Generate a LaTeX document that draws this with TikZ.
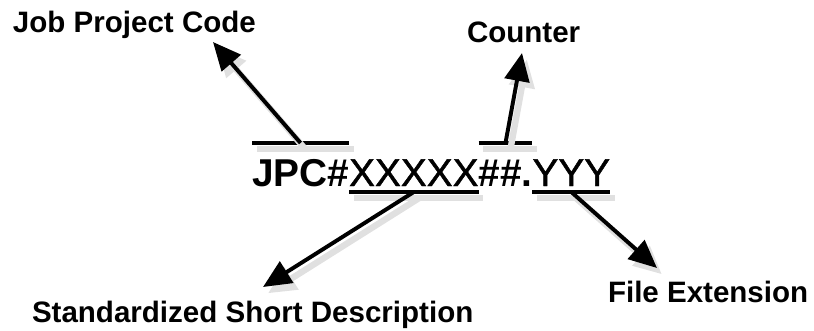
\documentclass[tikz,border=0pt]{standalone}
\usepackage{fontspec}
\setmainfont{Liberation Sans}
\newfontfamily\midweight{Liberation Sans}[FakeBold=1.2]
\usetikzlibrary{arrows.meta, positioning}

\begin{document}
\begin{tikzpicture}[x=0.025cm, y=-0.025cm, >={Triangle[length=0.7cm, width=0.62cm]},
  codepart/.style={inner sep=0pt, outer sep=0pt, anchor=base west, font=\fontsize{27.6}{30}\selectfont\midweight},
  descr/.style={inner sep=0pt, outer sep=0pt, anchor=base west, font=\fontsize{21}{24}\selectfont\bfseries},
  bar/.style={line width=2.8pt, preaction={draw=black!12, line width=4.5pt, transform canvas={shift={(3.5pt,-4.5pt)}}}},
  pointer/.style={->, line width=2.8pt, preaction={draw=black!12, fill=black!12, line width=4.5pt, transform canvas={shift={(3.5pt,-4.5pt)}}}}]
  \useasboundingbox (0,0) rectangle (814,330);

  % Nodes
  \node[codepart, font=\fontsize{27.6}{30}\selectfont\bfseries] (jpc) at (252,186) {JPC\#};
  \node[codepart, base right=0pt of jpc] (xxx) {XXXXX};
  \node[codepart, base right=0pt of xxx, font=\fontsize{27.6}{30}\selectfont\bfseries] (hash) {\#\#.};
  \node[codepart, base right=0pt of hash] (yyy) {YYY};

  \node[descr] (job) at (13,32) {Job Project Code};
  \node[descr] (counter) at (467,42) {Counter};
  \node[descr] (short) at (32,322) {Standardized Short Description};
  \node[descr] (ext) at (608,302) {File Extension};

  \coordinate (jobtip) at (213,42);
  \coordinate (countertip) at (522,53);
  \coordinate (shorttip) at (263,287);
  \coordinate (exttip) at (657,268);

  % Bars
  \draw[bar] ([yshift=1.075cm]jpc.base west) -- coordinate[midway] (jpcmid) ([yshift=1.075cm]jpc.base east);
  \draw[bar] ([yshift=1.075cm]hash.base west) -- coordinate[midway] (hashmid) ([yshift=1.075cm]hash.base east);
  \draw[bar] ([yshift=-0.15cm]xxx.base west) -- coordinate[midway] (xxxmid) ([yshift=-0.15cm]xxx.base east);
  \draw[bar] ([yshift=-0.15cm]yyy.base west) -- coordinate[midway] (yyymid) ([yshift=-0.15cm]yyy.base east);

  % Arrows
  \draw[pointer] (jpcmid) -- (jobtip);
  \draw[pointer] (hashmid) -- (countertip);
  \draw[pointer] (xxxmid) -- (shorttip);
  \draw[pointer] (yyymid) -- (exttip);
\end{tikzpicture}
\end{document}
